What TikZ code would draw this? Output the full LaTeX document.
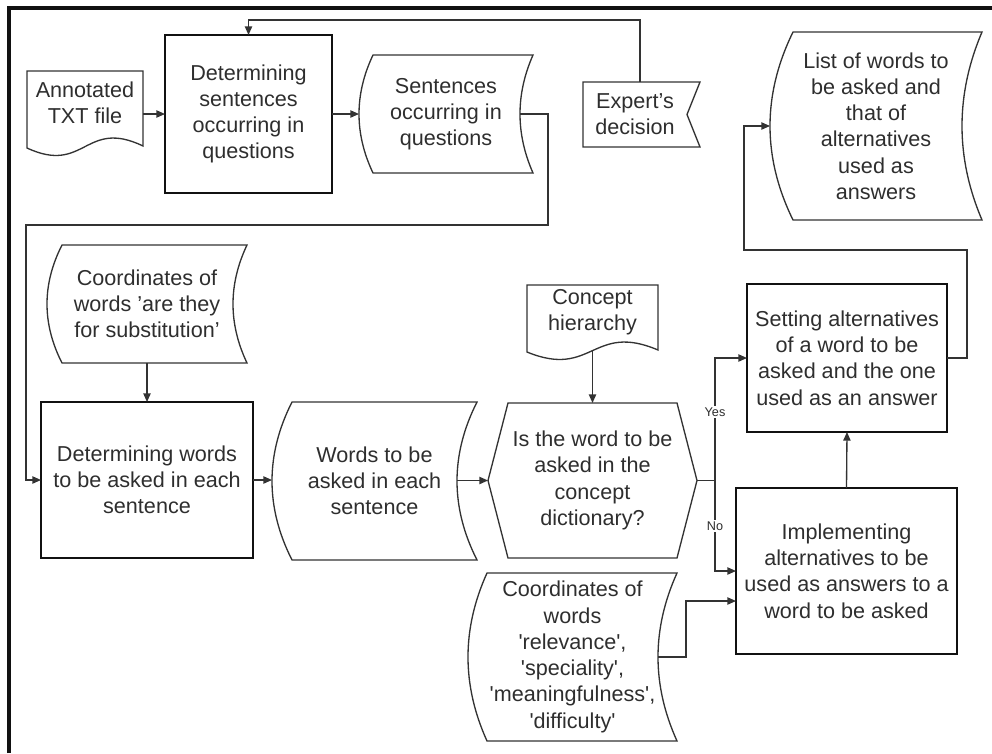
\documentclass[tikz,border=0pt]{standalone}
\usepackage{fontspec}
\setmainfont{Liberation Sans}
\usetikzlibrary{arrows.meta,calc}

% one drawing unit = one pixel of the layout grid
\newcommand\pxu{0.75pt}

\definecolor{inkline}{HTML}{333333}
\definecolor{inktext}{HTML}{2E2E2E}
\definecolor{inkbox}{HTML}{111111}

\tikzset{
  base/.style={inner sep=0pt, outer sep=0pt, align=center, text=inktext,
    font=\fontsize{16.2}{19.7}\selectfont},
  area/.style 2 args={minimum width=#1*\pxu, minimum height=#2*\pxu},
  procbox/.style={base, draw=inkbox, line width=2.2pt},
  outline/.style={draw=inkline, line width=1pt, line join=miter},
  conn/.style={draw=inkline, line width=1pt},
  arr/.style={conn, -{Triangle[length=6.5pt,width=5.5pt]}},
  branch/.style={fill=white, text=inktext, inner sep=1pt,
    font=\fontsize{9.5}{11}\selectfont},
  frameline/.style={draw=inkbox, line width=2.3pt},
}

% stored-data outline: convex left side, concave right side
% (each side is a parabolic arc written as a cubic)
\newcommand\StoredShape[3]{%
  \draw[outline] ([xshift=#2*\pxu]#1.north west) -- (#1.north east)
    .. controls ($(#1.north east)!1/3!(#1.south east)+(-4*#3*\pxu/3,0)$)
       and ($(#1.north east)!2/3!(#1.south east)+(-4*#3*\pxu/3,0)$)
    .. (#1.south east)
    -- ([xshift=#2*\pxu]#1.south west)
    .. controls ($(#1.north west)!2/3!(#1.south west)+(-#2*\pxu/3,0)$)
       and ($(#1.north west)!1/3!(#1.south west)+(-#2*\pxu/3,0)$)
    .. ([xshift=#2*\pxu]#1.north west)
    -- cycle;}

% document outline: straight top and sides, wavy bottom
\newcommand\DocShape[1]{%
  \draw[outline] ([yshift=-13*\pxu]#1.south west) -- (#1.north west)
    -- (#1.north east) -- ([yshift=-11*\pxu]#1.south east)
    .. controls ([yshift=17*\pxu]#1.south) and ([yshift=-40*\pxu]#1.south)
    .. ([yshift=-13*\pxu]#1.south west) -- cycle;}

% manual-input flag: right side notched inward
\newcommand\FlagShape[1]{%
  \draw[outline] (#1.north west) -- ([xshift=13*\pxu]#1.north east)
    -- (#1.east) -- ([xshift=13*\pxu]#1.south east)
    -- (#1.south west) -- cycle;}

% decision hexagon
\newcommand\HexShape[2]{%
  \draw[outline] (#1.west) -- ([xshift=#2*\pxu]#1.north west)
    -- ([xshift=-#2*\pxu]#1.north east) -- (#1.east)
    -- ([xshift=-#2*\pxu]#1.south east) -- ([xshift=#2*\pxu]#1.south west)
    -- cycle;}

\begin{document}
\begin{tikzpicture}[x=0.75pt, y=-0.75pt]
\useasboundingbox (0,0) rectangle (992,753);

% outer frame (open towards right and bottom)
\draw[frameline] (9,753) -- (9,8) -- (992,8);

% ---- nodes ----
\node[base, area={116}{64}] (ann) at (85,103) {Annotated\\TXT file};
\node[procbox, area={167}{158}] (detS) at (248.5,114)
  {Determining\\sentences\\occurring in\\questions};
\node[base, area={174}{118}] (sent) at (446,114)
  {Sentences\\occurring in\\questions};
\node[base, area={104}{65}] (exp) at (635,114.5) {Expert’s\\decision};
\node[base, area={212}{188}] (list) at (876,126)
  {List of words to\\be asked and\\that of\\alternatives\\used as\\answers};
\node[base, area={200}{118}] (coordA) at (147,304)
  {Coordinates of\\words ’are they\\for substitution’};
\node[procbox, area={212}{156}] (detW) at (147,480)
  {Determining words\\to be asked in each\\sentence};
\node[base, area={205}{158}] (words) at (374.5,481)
  {Words to be\\asked in each\\sentence};
\node[base, area={131}{54}] (con) at (592.5,312) {Concept\\hierarchy};
\node[base, area={209}{155}] (dec) at (592.5,480.5)
  {Is the word to be\\asked in the\\concept\\dictionary?};
\node[procbox, area={200}{148}] (setA) at (847,358)
  {Setting alternatives\\of a word to be\\asked and the one\\used as an answer};
\node[procbox, area={221}{166}] (impl) at (846.5,571)
  {Implementing\\alternatives to be\\used as answers to a\\word to be asked};
\node[base, area={209}{168}] (rel) at (572.5,657)
  {Coordinates of\\words\\\textquotesingle relevance\textquotesingle,\\\textquotesingle speciality\textquotesingle,\\\textquotesingle meaningfulness\textquotesingle,\\\textquotesingle difficulty\textquotesingle};

% ---- outlines ----
\DocShape{ann}
\DocShape{con}
\StoredShape{sent}{14}{13}
\StoredShape{list}{23}{20}
\StoredShape{coordA}{15}{14}
\StoredShape{words}{20}{20}
\StoredShape{rel}{19}{19}
\FlagShape{exp}
\HexShape{dec}{20}

% ---- bend points ----
\coordinate (loopA) at (548,225);
\coordinate (loopB) at (26,225);
\coordinate (fbk) at (640,20);
\coordinate (split) at (715,480.5);
\coordinate (outA) at (967,250);
\coordinate (outB) at (744,250);

% ---- connectors ----
\draw[arr] (ann.east |- detS.west) -- (detS.west);
\draw[arr] (detS.east) -- (sent.west);
\draw[arr] ([xshift=-13*\pxu]sent.east) -| (loopA) -- (loopB) |- (detW.west);
\draw[arr] ([xshift=5*\pxu]exp.north) -- (fbk) -| (detS.north);
\draw[arr] (coordA.south) -- (detW.north);
\draw[arr] (detW.east) -- (words.west |- detW.east);
\draw[arr] ([xshift=-20*\pxu]words.east |- dec.west) -- (dec.west);
\draw[arr] ([yshift=-12*\pxu]con.south) -- (dec.north);
\draw[conn] (dec.east) -- (split);
\draw[arr] (split) |- (setA.west) node[branch, pos=0.28] {Yes};
\draw[arr] (split) |- (impl.west) node[branch, pos=0.25] {No};
\draw[arr] ([xshift=-19*\pxu]rel.east) -- ++(28,0) |- ([yshift=-30*\pxu]impl.west);
\draw[arr] (impl.north) -- (setA.south);
\draw[arr] (setA.east) -| (outA) -- (outB) |- (list.west);
\end{tikzpicture}
\end{document}
